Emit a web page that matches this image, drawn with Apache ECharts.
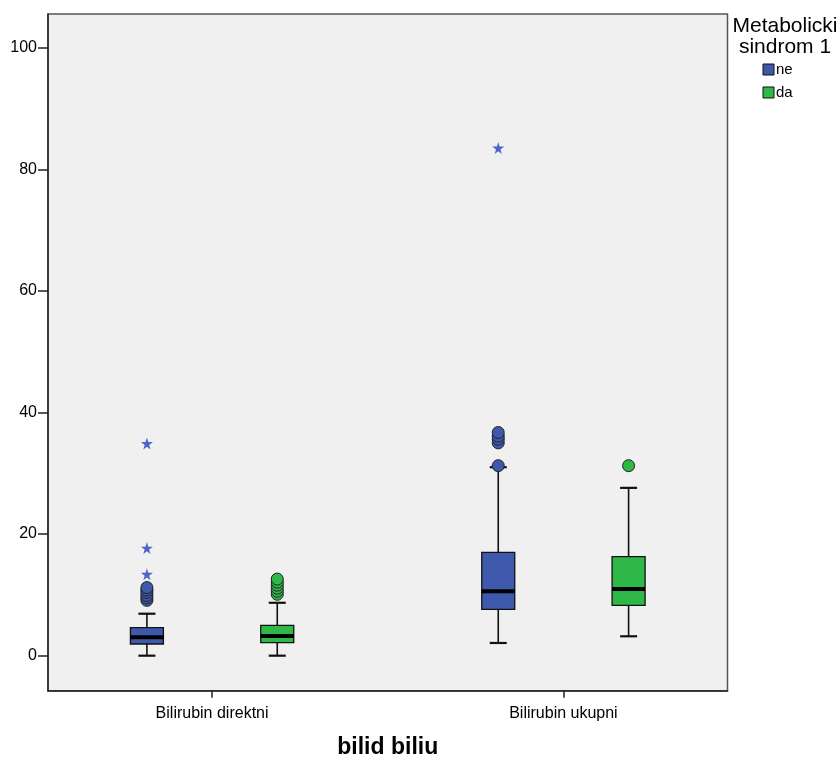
<!DOCTYPE html>
<html>
<head>
<meta charset="utf-8">
<script src="https://cdn.jsdelivr.net/npm/echarts@6/dist/echarts.min.js"></script>
<style>
  html, body { margin: 0; padding: 0; background: #ffffff; }
  #chart { width: 836px; height: 758px; }
</style>
</head>
<body>
<div id="chart"></div>
<script>
// ---- data ----
var categories = ['Bilirubin direktni', 'Bilirubin ukupni'];
var groupNames = ['ne', 'da'];
var legendTitle = 'Metabolicki\nsindrom 1';
var axisTitle = 'bilid biliu';
var yTicks = [0, 20, 40, 60, 80, 100];

// [min, Q1, median, Q3, max] per category
var neStats = [
  [0.0, 1.92, 3.03, 4.6, 6.9],
  [2.09, 7.63, 10.6, 17.0, 31.0]
];
var daStats = [
  [0.0, 2.14, 3.24, 5.0, 8.7],
  [3.19, 8.29, 10.97, 16.3, 27.6]
];
// outliers: [categoryIndex, value]
var neOutliers = [
  [0, 9.1], [0, 9.5], [0, 9.9], [0, 10.4], [0, 10.8], [0, 11.2],
  [1, 31.25], [1, 35.0], [1, 35.6], [1, 36.1], [1, 36.7]
];
var neExtremes = [
  [0, 13.4], [0, 17.7], [0, 34.9],
  [1, 83.5]
];
var daOutliers = [
  [0, 10.1], [0, 10.6], [0, 11.1], [0, 11.6], [0, 12.1], [0, 12.6],
  [1, 31.25]
];
var daExtremes = [];

// ---- style / layout ----
var COLORS = { ne: '#3E58AC', da: '#2EB848' };
var STAR_COLOR = '#4B66C8';
var OFFSET = { ne: -0.1855, da: 0.1855 };
var BOX_HALF = 16.5;
var CAP_HALF = 8.5;
var STAR = 'path://M50,0 L61,35 L98,35 L68,57 L79,91 L50,70 L21,91 L32,57 L2,35 L39,35 Z';
var FONT = 'Liberation Sans, Arial, sans-serif';

function boxSeries(name, stats) {
  var off = OFFSET[name];
  return {
    name: name,
    type: 'custom',
    itemStyle: { color: COLORS[name] },
    encode: { x: 0, y: [1, 2, 3, 4, 5] },
    data: stats.map(function (s, i) { return [i + 1].concat(s); }),
    z: 2,
    renderItem: function (params, api) {
      var xc = api.value(0) + off;
      var pMin = api.coord([xc, api.value(1)]);
      var pQ1 = api.coord([xc, api.value(2)]);
      var pMed = api.coord([xc, api.value(3)]);
      var pQ3 = api.coord([xc, api.value(4)]);
      var pMax = api.coord([xc, api.value(5)]);
      var cx = pMed[0];
      var lineStyle = { stroke: '#111', lineWidth: 1.6 };
      return {
        type: 'group',
        children: [
          { type: 'line', shape: { x1: cx, y1: pQ3[1], x2: cx, y2: pMax[1] }, style: lineStyle },
          { type: 'line', shape: { x1: cx, y1: pQ1[1], x2: cx, y2: pMin[1] }, style: lineStyle },
          { type: 'line', shape: { x1: cx - CAP_HALF, y1: pMax[1], x2: cx + CAP_HALF, y2: pMax[1] }, style: { stroke: '#111', lineWidth: 2.2 } },
          { type: 'line', shape: { x1: cx - CAP_HALF, y1: pMin[1], x2: cx + CAP_HALF, y2: pMin[1] }, style: { stroke: '#111', lineWidth: 2.2 } },
          { type: 'rect', shape: { x: cx - BOX_HALF, y: pQ3[1], width: BOX_HALF * 2, height: pQ1[1] - pQ3[1] },
            style: { fill: COLORS[name], stroke: '#111', lineWidth: 1.3 } },
          { type: 'line', shape: { x1: cx - BOX_HALF, y1: pMed[1], x2: cx + BOX_HALF, y2: pMed[1] }, style: { stroke: '#000', lineWidth: 3.8 } }
        ]
      };
    }
  };
}

function pointSeries(name, list, symbol, size, color, border) {
  var off = OFFSET[name];
  return {
    name: name + ' points',
    type: 'scatter',
    symbol: symbol,
    symbolSize: size,
    z: 5,
    itemStyle: { color: color, borderColor: border, borderWidth: border ? 1 : 0, opacity: 1 },
    data: list.map(function (d) { return [d[0] + 1 + off, d[1]]; })
  };
}

var chart = echarts.init(document.getElementById('chart'), null, { renderer: 'canvas' });
chart.setOption({
  animation: false,
  backgroundColor: '#ffffff',
  grid: {
    left: 48, right: 108.5, top: 14, bottom: 67.3,
    containLabel: false,
    outerBoundsMode: 'none',
    show: true, backgroundColor: '#F0F0F0', borderColor: '#555', borderWidth: 1.5
  },
  title: {
    text: legendTitle,
    left: 785, top: 16,
    padding: 0,
    textAlign: 'center',
    textStyle: { fontFamily: FONT, fontSize: 21, fontWeight: 'normal', color: '#000', lineHeight: 21 }
  },
  legend: {
    data: groupNames,
    orient: 'vertical',
    left: 762.5, top: 62,
    padding: 0,
    itemWidth: 11, itemHeight: 11, itemGap: 8,
    icon: 'rect',
    itemStyle: { borderColor: '#111', borderWidth: 1 },
    textStyle: { fontFamily: FONT, fontSize: 15, color: '#000', padding: [0, 0, 0, -3] }
  },
  xAxis: {
    type: 'value',
    min: 0.533, max: 2.467,
    name: axisTitle,
    nameLocation: 'middle',
    nameGap: 45,
    nameTextStyle: { fontFamily: FONT, fontSize: 23, fontWeight: 'bold', color: '#000' },
    axisLine: { show: true, onZero: false, lineStyle: { color: '#222', width: 1.5 } },
    axisTick: { show: true, length: 7, customValues: [1, 2], lineStyle: { color: '#222', width: 1.5 } },
    axisLabel: {
      customValues: [1, 2], margin: 15,
      formatter: function (v) { return categories[Math.round(v) - 1]; },
      fontFamily: FONT, fontSize: 16, color: '#000'
    },
    splitLine: { show: false }
  },
  yAxis: {
    type: 'value',
    min: -5.76, max: 105.54,
    axisLine: { show: true, onZero: false, lineStyle: { color: '#222', width: 1.5 } },
    axisTick: { show: true, length: 10, customValues: yTicks, lineStyle: { color: '#222', width: 1.5 } },
    axisLabel: {
      customValues: yTicks, margin: 11,
      fontFamily: FONT, fontSize: 16, color: '#000'
    },
    splitLine: { show: false }
  },
  series: [
    boxSeries('ne', neStats),
    boxSeries('da', daStats),
    pointSeries('ne', neOutliers, 'circle', 12, COLORS.ne, '#222'),
    pointSeries('da', daOutliers, 'circle', 12, COLORS.da, '#222'),
    pointSeries('ne', neExtremes, STAR, 12, STAR_COLOR, null),
    pointSeries('da', daExtremes, STAR, 12, STAR_COLOR, null)
  ]
});
</script>
</body>
</html>
